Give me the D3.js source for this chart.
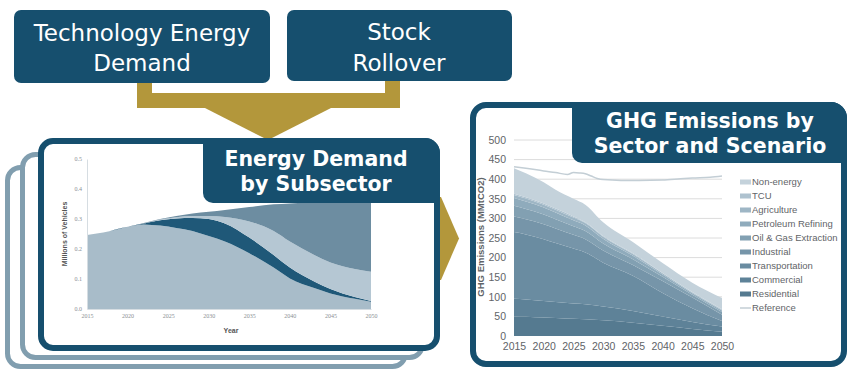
<!DOCTYPE html>
<html>
<head>
<meta charset="utf-8">
<script src="https://cdn.jsdelivr.net/npm/d3@7"></script>
<style>
  html, body { margin: 0; padding: 0; background: #ffffff; }
  svg { display: block; }
</style>
</head>
<body>
<svg id="chart" width="849" height="371"></svg>
<script>
// ---------- Vehicle stock by subsector (millions of vehicles) ----------
const stockYears  = [2015, 2017, 2020, 2022, 2024, 2026, 2028, 2030, 2032, 2035, 2038, 2040, 2043, 2045, 2048, 2050];
const stockBase   = [0.247, 0.255, 0.274, 0.282, 0.278, 0.270, 0.260, 0.243, 0.225, 0.186, 0.138, 0.102, 0.070, 0.052, 0.034, 0.024];
const stockDark   = [0, 0, 0, 0.003, 0.018, 0.032, 0.043, 0.057, 0.060, 0.052, 0.042, 0.036, 0.022, 0.015, 0.006, 0.003];
const stockLight  = [0, 0, 0, 0, 0.002, 0.004, 0.007, 0.010, 0.022, 0.054, 0.080, 0.087, 0.088, 0.088, 0.093, 0.097];
const stockSlate  = [0, 0, 0, 0.002, 0.002, 0.004, 0.008, 0.014, 0.023, 0.048, 0.089, 0.127, 0.176, 0.203, 0.227, 0.238];
const stockColors = ["#a8bcc9", "#1f5878", "#b5c7d3", "#6d8da1"];
const stockValueTicks = [0, 0.1, 0.2, 0.3, 0.4, 0.5];
const stockYearTicks  = [2015, 2020, 2025, 2030, 2035, 2040, 2045, 2050];

// ---------- GHG emissions by sector (MMtCO2) ----------
const ghgYears       = [2015, 2017, 2020, 2022, 2025, 2027, 2030, 2035, 2040, 2045, 2050];
const sectors        = ["Residential", "Commercial", "Transportation", "Industrial", "Oil & Gas Extraction",
                        "Petroleum Refining", "Agriculture", "TCU", "Non-energy"];
const residential    = [50, 49, 47, 46, 44, 43, 40, 34, 26, 18, 11];
const commercial     = [45, 44, 42, 41, 39, 38, 35, 30, 24, 18, 13];
const transportation = [170, 166, 158, 150, 140, 132, 112, 90, 60, 35, 14];
const industrial     = [40, 39, 38, 37, 35, 34, 31, 27, 30, 27, 16];
const oilGas         = [27, 26, 25, 24, 22, 21, 18, 15, 11, 7, 7];
const refining       = [20, 19, 18, 17, 15, 14, 12, 9, 6, 4, 4];
const agriculture    = [8, 8, 7, 7, 7, 6, 5, 4, 3, 2, 2];
const tcu            = [3, 3, 3, 3, 3, 2, 2, 2, 1, 1, 1];
const nonEnergy      = [65, 61, 54, 48, 45, 45, 35, 29, 25, 24, 29];
const sectorColors   = ["#557a90", "#5e8298", "#6a8ca1", "#7695a9", "#82a0b2", "#8fabbc", "#9eb6c5", "#aec2cf", "#c4d2db"];
const referenceYears  = [2015, 2017, 2020, 2022, 2024, 2025, 2026, 2027, 2028, 2029, 2030, 2033, 2036, 2040, 2043, 2045, 2048, 2050];
const referenceValues = [432, 428, 421, 417, 412, 417, 416, 414, 408, 402, 399, 397, 397, 398, 401, 403, 405, 408];
const ghgValueTicks = [0, 50, 100, 150, 200, 250, 300, 350, 400, 450, 500];
const ghgYearTicks  = [2015, 2020, 2025, 2030, 2035, 2040, 2045, 2050];

// ---------- palette ----------
const navy = "#164f6e";
const steel = "#819eaf";
const gold = "#b3973b";

const svg = d3.select("#chart");

// rounded rectangle with individual corner radii [tl, tr, br, bl]
function roundedPath(x, y, w, h, r) {
  const [tl, tr, br, bl] = r;
  return `M${x + tl},${y}H${x + w - tr}A${tr},${tr} 0 0 1 ${x + w},${y + tr}` +
         `V${y + h - br}A${br},${br} 0 0 1 ${x + w - br},${y + h}` +
         `H${x + bl}A${bl},${bl} 0 0 1 ${x},${y + h - bl}` +
         `V${y + tl}A${tl},${tl} 0 0 1 ${x + tl},${y}Z`;
}

function label(g, lines, cx, baselines, size, weight) {
  lines.forEach((t, i) => {
    g.append("text")
      .attr("x", cx).attr("y", baselines[i])
      .attr("text-anchor", "middle")
      .attr("font-family", "DejaVu Sans, Verdana, sans-serif")
      .attr("font-size", size)
      .attr("font-weight", weight)
      .attr("fill", "#ffffff")
      .text(t);
  });
}

// ---------- flow connectors ----------
svg.append("path")
  .attr("d", "M137,76H152V93H385V76H400V108H137Z")
  .attr("fill", gold);
svg.append("path")
  .attr("d", "M203,107L333,107L268,140Z")
  .attr("fill", gold);

// ---------- input boxes ----------
const inputs = svg.append("g");
inputs.append("path").attr("d", roundedPath(14, 10, 256, 73, [7, 7, 7, 7])).attr("fill", navy);
inputs.append("path").attr("d", roundedPath(287, 10, 225, 71, [7, 7, 7, 7])).attr("fill", navy);
label(inputs, ["Technology Energy", "Demand"], 142, [41, 71], 23, 400);
label(inputs, ["Stock", "Rollover"], 399, [40, 71], 23, 400);

// ---------- stacked frames behind the subsector chart ----------
svg.append("path").attr("d", roundedPath(7.5, 167.5, 398, 199, [13, 13, 13, 13]))
  .attr("fill", "#fff").attr("stroke", steel).attr("stroke-width", 5);
svg.append("path").attr("d", roundedPath(22.5, 154.5, 400, 203, [13, 13, 13, 13]))
  .attr("fill", "#fff").attr("stroke", steel).attr("stroke-width", 5);

// arrow into the emissions panel
svg.append("path")
  .attr("d", "M425,197H441L459,238.5L441,280H425Z")
  .attr("fill", gold);

// front frame
svg.append("path").attr("d", roundedPath(41, 141, 396, 207, [12, 12, 12, 12]))
  .attr("fill", "#fff").attr("stroke", navy).attr("stroke-width", 6);

// ---------- vehicle stock chart ----------
const xL = d3.scaleLinear().domain([2015, 2050]).range([87, 371]);
const yL = d3.scaleLinear().domain([0, 0.5]).range([309, 159]);

const stockRows = stockYears.map((yr, i) => ({
  year: yr, a: stockBase[i], b: stockDark[i], c: stockLight[i], d: stockSlate[i]
}));
const stockStack = d3.stack().keys(["a", "b", "c", "d"])(stockRows);
const stockArea = d3.area()
  .x(d => xL(d.data.year))
  .y0(d => yL(d[0]))
  .y1(d => yL(d[1]))
  .curve(d3.curveMonotoneX);

const left = svg.append("g");
left.selectAll("path.layer")
  .data(stockStack)
  .join("path")
  .attr("class", "layer")
  .attr("d", stockArea)
  .attr("fill", (d, i) => stockColors[i]);

const lAxisY = left.append("g")
  .attr("transform", `translate(${xL(2015)},0)`)
  .call(d3.axisLeft(yL).tickValues(stockValueTicks).tickFormat(d3.format(".1f")).tickSize(0).tickPadding(5));
const lAxisX = left.append("g")
  .attr("transform", `translate(0,${yL(0)})`)
  .call(d3.axisBottom(xL).tickValues(stockYearTicks).tickFormat(d3.format("d")).tickSize(0).tickPadding(5));
[lAxisY, lAxisX].forEach(a => {
  a.select(".domain").attr("stroke", "#d6dde2");
  a.selectAll("text").attr("fill", "#8a8f93").attr("font-size", 6)
    .attr("font-family", "Liberation Serif, serif");
});
left.append("text")
  .attr("transform", "translate(67,234) rotate(-90)")
  .attr("text-anchor", "middle")
  .attr("font-family", "Liberation Sans, Arial, sans-serif")
  .attr("font-size", 7).attr("font-weight", 700).attr("fill", "#555")
  .text("Millions of Vehicles");
left.append("text")
  .attr("x", 231).attr("y", 333)
  .attr("text-anchor", "middle")
  .attr("font-family", "Liberation Sans, Arial, sans-serif")
  .attr("font-size", 7).attr("font-weight", 700).attr("fill", "#555")
  .text("Year");

// panel title
const leftTitle = svg.append("g");
leftTitle.append("path").attr("d", roundedPath(203, 138, 237, 65, [0, 15, 0, 10])).attr("fill", navy);
label(leftTitle, ["Energy Demand", "by Subsector"], 316, [166, 191], 20.5, 700);

// ---------- emissions panel ----------
svg.append("path").attr("d", roundedPath(473, 105, 371, 259, [13, 13, 13, 13]))
  .attr("fill", "#fff").attr("stroke", navy).attr("stroke-width", 6);

const xR = d3.scaleLinear().domain([2015, 2050]).range([514, 722]);
const yR = d3.scaleLinear().domain([0, 500]).range([336, 140]);

const right = svg.append("g");
right.selectAll("line.grid")
  .data(ghgValueTicks.slice(1))
  .join("line")
  .attr("class", "grid")
  .attr("x1", xR(2015)).attr("x2", xR(2050))
  .attr("y1", d => yR(d)).attr("y2", d => yR(d))
  .attr("stroke", "#dcdcdc").attr("stroke-width", 1);

const sectorSeries = [residential, commercial, transportation, industrial, oilGas, refining, agriculture, tcu, nonEnergy];
const ghgRows = ghgYears.map((yr, i) => {
  const row = { year: yr };
  sectors.forEach((s, k) => { row[s] = sectorSeries[k][i]; });
  return row;
});
const ghgStack = d3.stack().keys(sectors)(ghgRows);
const ghgArea = d3.area()
  .x(d => xR(d.data.year))
  .y0(d => yR(d[0]))
  .y1(d => yR(d[1]))
  .curve(d3.curveMonotoneX);

right.selectAll("path.sector")
  .data(ghgStack)
  .join("path")
  .attr("class", "sector")
  .attr("d", ghgArea)
  .attr("fill", (d, i) => sectorColors[i]);

const refLine = d3.line()
  .x(d => xR(d[0]))
  .y(d => yR(d[1]))
  .curve(d3.curveMonotoneX);
right.append("path")
  .datum(referenceYears.map((y, i) => [y, referenceValues[i]]))
  .attr("d", refLine)
  .attr("fill", "none")
  .attr("stroke", "#c3ced5")
  .attr("stroke-width", 1.5);

const rAxisY = right.append("g")
  .attr("transform", `translate(${xR(2015)},0)`)
  .call(d3.axisLeft(yR).tickValues(ghgValueTicks).tickSize(0).tickPadding(8));
const rAxisX = right.append("g")
  .attr("transform", `translate(0,${yR(0)})`)
  .call(d3.axisBottom(xR).tickValues(ghgYearTicks).tickFormat(d3.format("d")).tickSize(0).tickPadding(7));
[rAxisY, rAxisX].forEach(a => {
  a.select(".domain").remove();
  a.selectAll("text").attr("fill", "#5f6468").attr("font-size", 10.5)
    .attr("font-family", "Liberation Sans, Arial, sans-serif");
});
right.append("text")
  .attr("transform", "translate(484,237) rotate(-90)")
  .attr("text-anchor", "middle")
  .attr("font-family", "Liberation Sans, Arial, sans-serif")
  .attr("font-size", 9.5).attr("font-weight", 700).attr("fill", "#5f6468")
  .text("GHG Emissions (MMtCO2)");

// legend: top entry first, reference line last
const legendItems = sectors.map((s, i) => ({ name: s, color: sectorColors[i], line: false })).reverse()
  .concat([{ name: "Reference", color: "#c3ced5", line: true }]);
const legend = right.append("g");
const legY = d3.scalePoint().domain(legendItems.map(d => d.name)).range([182, 308]);
const entry = legend.selectAll("g.entry")
  .data(legendItems)
  .join("g")
  .attr("class", "entry")
  .attr("transform", d => `translate(740,${legY(d.name)})`);
entry.append("rect")
  .attr("x", 0).attr("width", 11)
  .attr("y", d => d.line ? -0.75 : -2.5)
  .attr("height", d => d.line ? 1.5 : 5)
  .attr("fill", d => d.color);
entry.append("text")
  .attr("x", 12).attr("y", 0).attr("dy", "0.35em")
  .attr("font-family", "Liberation Sans, Arial, sans-serif")
  .attr("font-size", 9.5).attr("fill", "#5f6468")
  .text(d => d.name);

// panel title
const rightTitle = svg.append("g");
rightTitle.append("path").attr("d", roundedPath(572, 102, 275, 61, [0, 16, 0, 10])).attr("fill", navy);
label(rightTitle, ["GHG Emissions by", "Sector and Scenario"], 710, [128, 153], 20.5, 700);
</script>
</body>
</html>
